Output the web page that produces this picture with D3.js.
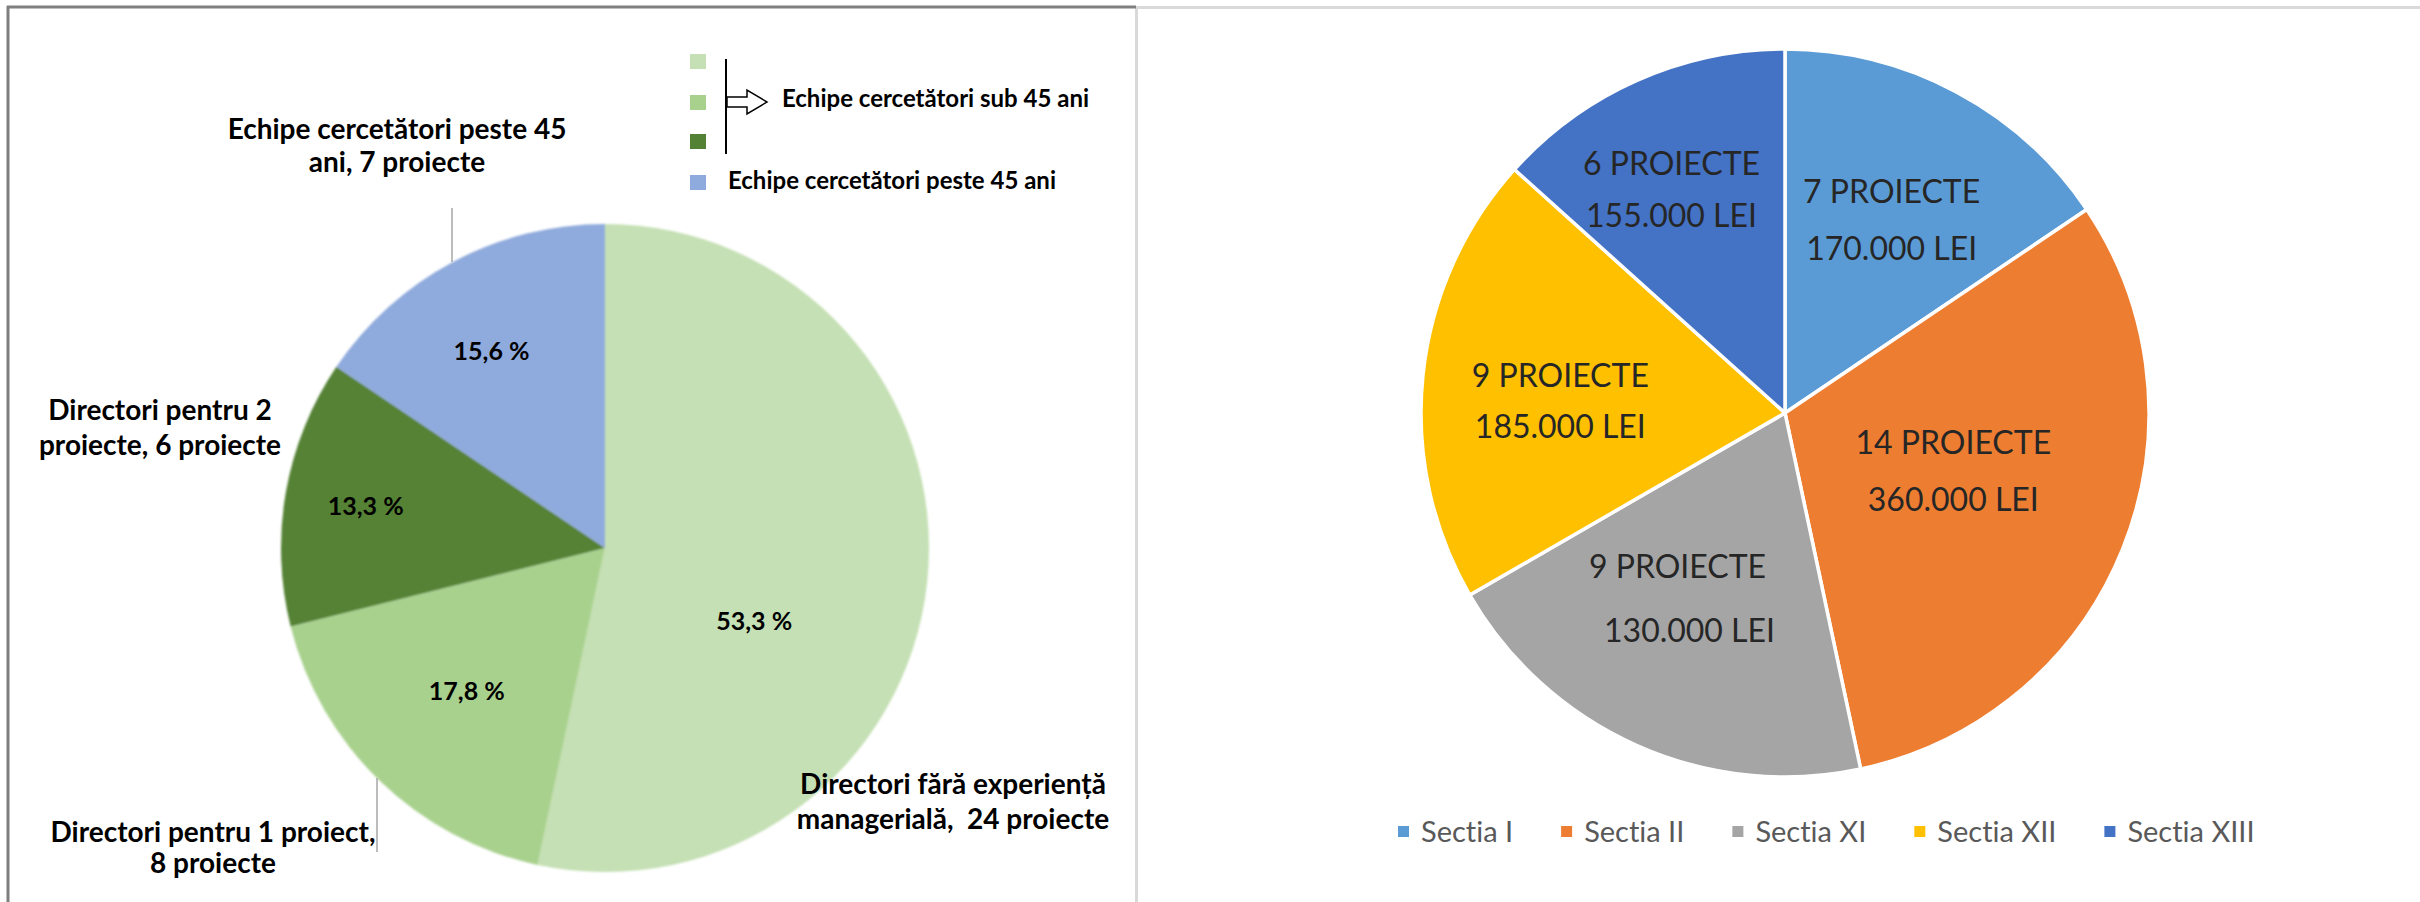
<!DOCTYPE html>
<html>
<head>
<meta charset="utf-8">
<script src="https://cdn.jsdelivr.net/npm/d3@7"></script>
<style>
  html, body { margin: 0; padding: 0; background: #fff; overflow: hidden; }
  svg { display: block; }
  text { font-family: Lato, "Noto Sans", sans-serif; font-variant-ligatures: none; font-feature-settings: "liga" 0, "clig" 0; }
</style>
</head>
<body>
<svg id="chart" width="2420" height="902"></svg>
<script>
// Left chart data
const leftCategories = ['Directori fără experiență managerială', 'Directori pentru 1 proiect', 'Directori pentru 2 proiecte', 'Echipe cercetători peste 45 ani'];
const leftProjects = [24, 8, 6, 7];
const leftColors = ['#c5e0b4', '#a9d18e', '#548235', '#8faadc'];
const leftLabelLines = [
  ['Directori fără experiență', 'managerială,  24 proiecte'],
  ['Directori pentru 1 proiect,', '8 proiecte'],
  ['Directori pentru 2', 'proiecte, 6 proiecte'],
  ['Echipe cercetători peste 45', 'ani, 7 proiecte']
];
const legendGroupText = 'Echipe cercetători sub 45 ani';
const legendSingleText = 'Echipe cercetători peste 45 ani';

// Right chart data
const sections = ['Sectia I', 'Sectia II', 'Sectia XI', 'Sectia XII', 'Sectia XIII'];
const sectionProjects = [7, 14, 9, 9, 6];
const sectionLei = [170000, 360000, 130000, 185000, 155000];
const sectionColors = ['#5b9bd5', '#ed7d31', '#a5a5a5', '#ffc000', '#4472c4'];

// Layout (not data)
const L = { cx: 605, cy: 548, r: 324 };
const R = { cx: 1785, cy: 413, r: 364 };
// percent label placement: [radius, angle nudge in degrees]
const pctPlace = [[166, 20], [199, 0], [243, 0], [227, -2]];
// category label positions: [center x, first baseline, line gap]
const catPlace = [[953, 794, 35], [213, 842, 31], [160, 420, 35], [397, 139, 33]];
// leader lines: [x, y1, y2] or null
const leaders = [null, [377, 778, 852], null, [452, 208, 262]];
// right label placement: [radius, angle nudge, line gap, dx line 2]
const rightPlace = [[220, 1, 57, 0], [178, -3, 57, 0], [215, 6, 64, 12], [225, -3, 51, 0], [250, -3, 52, 0]];

const svg = d3.select('#chart');

// panel borders
svg.append('line').attr('x1', 1136.5).attr('x2', 2420).attr('y1', 7.5).attr('y2', 7.5)
  .attr('stroke', '#d9d9d9').attr('stroke-width', 3);
svg.append('line').attr('x1', 1136.5).attr('x2', 1136.5).attr('y1', 6).attr('y2', 902)
  .attr('stroke', '#d9d9d9').attr('stroke-width', 3);
svg.append('line').attr('x1', 7).attr('x2', 1136).attr('y1', 7).attr('y2', 7)
  .attr('stroke', '#7f7f7f').attr('stroke-width', 3);
svg.append('line').attr('x1', 8).attr('x2', 8).attr('y1', 6).attr('y2', 902)
  .attr('stroke', '#7f7f7f').attr('stroke-width', 3);

// soft edge filter for left pie
const defs = svg.append('defs');
defs.append('filter').attr('id', 'soft')
  .append('feGaussianBlur').attr('stdDeviation', 1.3);

// ---------- left pie ----------
const pie = d3.pie().sort(null).value(d => d);
const leftArcs = pie(leftProjects);
const leftArc = d3.arc().innerRadius(0).outerRadius(L.r);
const total = d3.sum(leftProjects);
const fmtPct = v => (v * 100).toFixed(1).replace('.', ',') + ' %';

const gL = svg.append('g').attr('transform', `translate(${L.cx},${L.cy})`);
gL.append('g').attr('filter', 'url(#soft)')
  .selectAll('path').data(leftArcs).enter().append('path')
  .attr('d', leftArc)
  .attr('fill', (d, i) => leftColors[i]);

gL.selectAll('text.pct').data(leftArcs).enter().append('text')
  .attr('class', 'pct')
  .attr('transform', (d, i) => {
    const a = (d.startAngle + d.endAngle) / 2 + pctPlace[i][1] * Math.PI / 180;
    const p = d3.pointRadial(a, pctPlace[i][0]);
    return `translate(${p[0]},${p[1]})`;
  })
  .attr('text-anchor', 'middle').attr('dy', '0.35em')
  .attr('font-size', 25).attr('font-weight', 700).attr('fill', '#000')
  .text(d => fmtPct(d.value / total));

// leader lines
leaders.forEach(l => {
  if (!l) return;
  svg.append('line').attr('x1', l[0]).attr('x2', l[0]).attr('y1', l[1]).attr('y2', l[2])
    .attr('stroke', '#a6a6a6').attr('stroke-width', 1.5);
});

// category labels
leftLabelLines.forEach((lines, i) => {
  const [x, y, gap] = catPlace[i];
  const t = svg.append('text').attr('text-anchor', 'middle')
    .attr('font-size', 28).attr('font-weight', 700).attr('fill', '#000');
  lines.forEach((s, j) => {
    t.append('tspan').attr('x', x).attr('y', y + j * gap).attr('xml:space', 'preserve').text(s);
  });
});

// left legend
const legL = svg.append('g');
const sqY = [54, 95, 134, 175];
leftColors.forEach((c, i) => {
  legL.append('rect').attr('x', 690).attr('y', sqY[i]).attr('width', 16).attr('height', 15).attr('fill', c);
});
legL.append('line').attr('x1', 726).attr('x2', 726).attr('y1', 59).attr('y2', 154)
  .attr('stroke', '#000').attr('stroke-width', 2);
legL.append('path')
  .attr('d', 'M727,97 L747,97 L747,90 L767,102 L747,114 L747,107 L727,107 Z')
  .attr('fill', '#fff').attr('stroke', '#000').attr('stroke-width', 1.5);
legL.append('text').attr('x', 782).attr('y', 107)
  .attr('font-size', 24).attr('font-weight', 700).attr('fill', '#000')
  .text(legendGroupText);
legL.append('text').attr('x', 728).attr('y', 189)
  .attr('font-size', 24).attr('font-weight', 700).attr('fill', '#000')
  .text(legendSingleText);

// ---------- right pie ----------
const rightArcs = pie(sectionProjects);
const rightArc = d3.arc().innerRadius(0).outerRadius(R.r);
const gR = svg.append('g').attr('transform', `translate(${R.cx},${R.cy})`);
gR.selectAll('path').data(rightArcs).enter().append('path')
  .attr('d', rightArc)
  .attr('fill', (d, i) => sectionColors[i])
  .attr('stroke', '#fff').attr('stroke-width', 3.5).attr('stroke-linejoin', 'round');

const leiFmt = d3.formatLocale({ decimal: ',', thousands: '.', grouping: [3], currency: ['', ''] }).format(',');

rightArcs.forEach((d, i) => {
  const [rr, da, gap, dx2] = rightPlace[i];
  const a = (d.startAngle + d.endAngle) / 2 + da * Math.PI / 180;
  const p = d3.pointRadial(a, rr);
  const t = gR.append('text').attr('text-anchor', 'middle')
    .attr('font-size', 32).attr('fill', '#262626');
  t.append('tspan').attr('x', p[0]).attr('y', p[1] - gap / 2).attr('dy', '0.35em')
    .text(`${d.value} PROIECTE`);
  t.append('tspan').attr('x', p[0] + dx2).attr('y', p[1] + gap / 2).attr('dy', '0.35em')
    .text(`${leiFmt(sectionLei[i])} LEI`);
});

// right legend
const legR = svg.append('g').attr('transform', 'translate(1398,832)');
let lx = 0;
sections.forEach((s, i) => {
  const item = legR.append('g').attr('transform', `translate(${lx},0)`);
  item.append('rect').attr('x', 0).attr('y', -6).attr('width', 11).attr('height', 11).attr('fill', sectionColors[i]);
  const txt = item.append('text').attr('x', 23).attr('dy', '0.35em')
    .attr('font-size', 29).attr('fill', '#595959').text(s);
  lx += 23 + txt.node().getComputedTextLength() + 48;
});
</script>
</body>
</html>
